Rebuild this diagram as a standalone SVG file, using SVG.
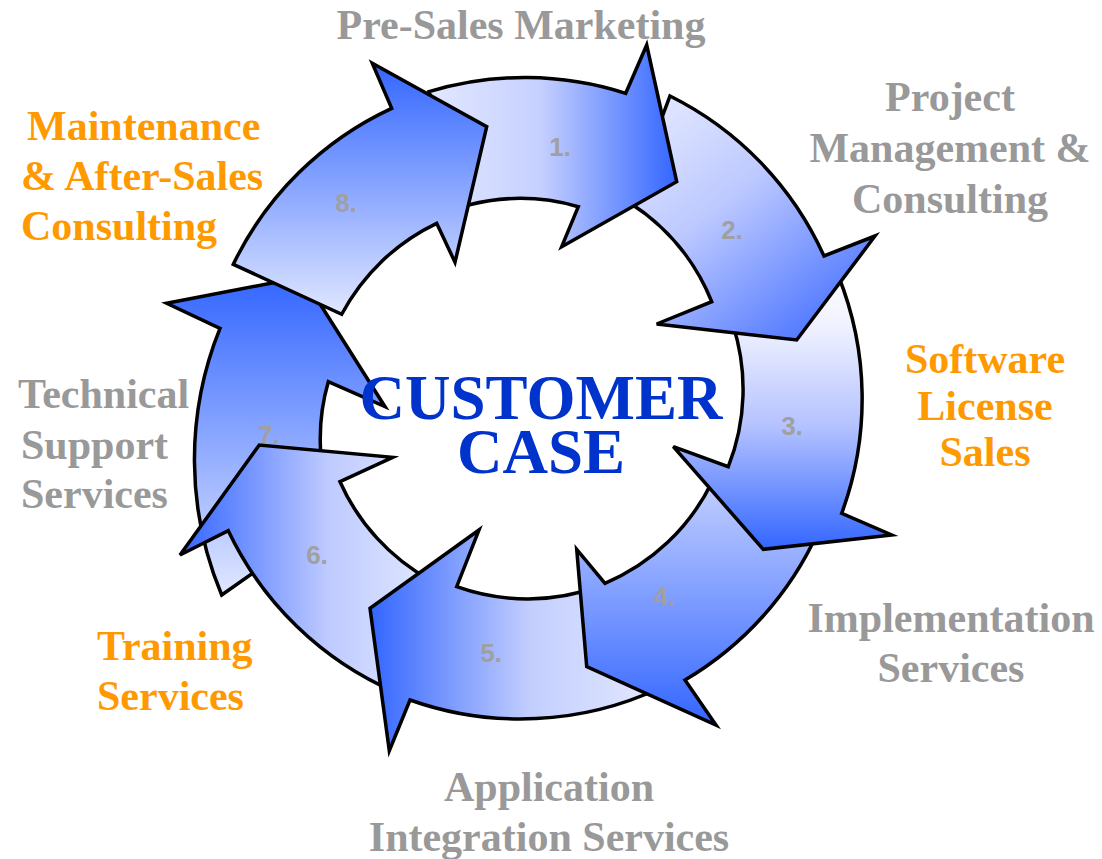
<svg xmlns="http://www.w3.org/2000/svg" width="1102" height="859" viewBox="0 0 1102 859">
<style>
.arrow{stroke:#000;stroke-width:3.5;stroke-linejoin:miter}
.num{font-family:"Liberation Sans",Arial,sans-serif;font-weight:bold;font-size:26px;fill:#a0a0a0;text-anchor:middle}
.lbl{font-family:"Liberation Serif","Times New Roman",serif;font-weight:bold;font-size:42px}
.gray{fill:#999999}
.orange{fill:#ff9900}
.center{font-family:"Liberation Serif","Times New Roman",serif;font-weight:bold;font-size:63px;fill:#0033cc;text-anchor:middle}
</style>
<defs>
<linearGradient id="g1" x1="0" y1="0" x2="1" y2="0"><stop offset="0" stop-color="#e2e8ff"/><stop offset="0.45" stop-color="#c6d0ff"/><stop offset="1" stop-color="#3366ff"/></linearGradient>
<linearGradient id="g2" x1="0.1" y1="0" x2="0.9" y2="1"><stop offset="0" stop-color="#e4e9ff"/><stop offset="0.4" stop-color="#bdc9ff"/><stop offset="1" stop-color="#3d6aff"/></linearGradient>
<linearGradient id="g3" x1="0" y1="0" x2="0" y2="1"><stop offset="0" stop-color="#ffffff"/><stop offset="0.2" stop-color="#eef0ff"/><stop offset="0.55" stop-color="#b4c2ff"/><stop offset="1" stop-color="#3366ff"/></linearGradient>
<linearGradient id="g4" x1="0" y1="0" x2="0" y2="1"><stop offset="0" stop-color="#c3cfff"/><stop offset="1" stop-color="#3366ff"/></linearGradient>
<linearGradient id="g5" x1="0" y1="0" x2="1" y2="0"><stop offset="0" stop-color="#3366ff"/><stop offset="0.55" stop-color="#c3cefe"/><stop offset="1" stop-color="#e3e9ff"/></linearGradient>
<linearGradient id="g6" x1="0" y1="0" x2="1" y2="0"><stop offset="0" stop-color="#3366ff"/><stop offset="0.6" stop-color="#c0cbff"/><stop offset="1" stop-color="#e0e7ff"/></linearGradient>
<linearGradient id="g7" x1="0" y1="0" x2="0" y2="1"><stop offset="0" stop-color="#3366ff"/><stop offset="1" stop-color="#e0e7ff"/></linearGradient>
<linearGradient id="g8" x1="0" y1="0" x2="0" y2="1"><stop offset="0" stop-color="#3366ff"/><stop offset="1" stop-color="#e0e7ff"/></linearGradient>
</defs>
<rect width="1102" height="859" fill="#ffffff"/>

<g id="connectors"></g>

<g id="step-7">
<path class="arrow" fill="url(#g7)" d="M221.7,595 A350,350 0 0,1 220,328.3 L166.7,303.3 L303,277 L385,406.7 L328.3,381.7 A205,205 0 0,0 335,515 Z"/>
<text class="num" x="269" y="444">7.</text>
</g>
<g id="step-6">
<path class="arrow" fill="url(#g6)" d="M395,692 A330,330 0 0,1 228.3,530.7 L180,555 L259.3,445 L392.7,457.3 L340,481.7 A210,210 0 0,0 430,580 Z"/>
<text class="num" x="317" y="564">6.</text>
</g>
<g id="step-5">
<path class="arrow" fill="url(#g5)" d="M660,688 A330,330 0 0,1 410,700 L389.3,750.7 L370,608.3 L479,530 L456.7,586.7 A210,210 0 0,0 600,586 Z"/>
<text class="num" x="491" y="662">5.</text>
</g>
<g id="step-4">
<path class="arrow" fill="url(#g4)" d="M818,532 A330,330 0 0,1 685,680 L716,725 L586.7,666.7 L576.7,549.3 L605,583.3 A210,210 0 0,0 712,482 Z"/>
<text class="num" x="664" y="605">4.</text>
</g>
<g id="step-3">
<path class="arrow" fill="url(#g3)" d="M838,275 A330,330 0 0,1 841.7,513.3 L891.7,535 L763.3,549.3 L673.3,446.7 L728.3,466.7 A210,210 0 0,0 733,325 Z"/>
<text class="num" x="792" y="435">3.</text>
</g>
<g id="step-2">
<path class="arrow" fill="url(#g2)" d="M670,96 A330,330 0 0,1 824,256 L875,236 L796.7,340 L656.7,324 L711.7,301.7 A210,210 0 0,0 630,203 Z"/>
<text class="num" x="732" y="239">2.</text>
</g>
<g id="step-1">
<path class="arrow" fill="url(#g1)" d="M429,91.7 A330,330 0 0,1 625.7,93.3 L646.7,45 L676.7,181.7 L561.7,246.7 L578.3,206.7 A210,210 0 0,0 468.3,205 Z"/>
<text class="num" x="560" y="156">1.</text>
</g>
<g id="step-8">
<path class="arrow" fill="url(#g8)" d="M233.3,264.3 A330,330 0 0,1 391.7,108.3 L372.3,63.3 L486.7,126.7 L455,262.3 L436.7,223.3 A210,210 0 0,0 341.7,314.3 Z"/>
<text class="num" x="346" y="212">8.</text>
</g>

<g id="center-label">
<text class="center" x="541" y="419">CUSTOMER</text>
<text class="center" x="541" y="473">CASE</text>
</g>

<g id="label-presales">
<text class="lbl gray" x="521" y="39" text-anchor="middle">Pre-Sales Marketing</text>
</g>
<g id="label-project">
<text class="lbl gray" x="950" y="111" text-anchor="middle">Project</text>
<text class="lbl gray" x="950" y="162" text-anchor="middle">Management &amp;</text>
<text class="lbl gray" x="950" y="213" text-anchor="middle">Consulting</text>
</g>
<g id="label-software">
<text class="lbl orange" x="985" y="373" text-anchor="middle">Software</text>
<text class="lbl orange" x="985" y="420" text-anchor="middle">License</text>
<text class="lbl orange" x="985" y="466" text-anchor="middle">Sales</text>
</g>
<g id="label-implementation">
<text class="lbl gray" x="951" y="632" text-anchor="middle">Implementation</text>
<text class="lbl gray" x="951" y="682" text-anchor="middle">Services</text>
</g>
<g id="label-application">
<text class="lbl gray" x="549" y="801" text-anchor="middle">Application</text>
<text class="lbl gray" x="549" y="851" text-anchor="middle">Integration Services</text>
</g>
<g id="label-training">
<text class="lbl orange" x="97" y="660">Training</text>
<text class="lbl orange" x="97" y="710">Services</text>
</g>
<g id="label-technical">
<text class="lbl gray" x="18" y="408">Technical</text>
<text class="lbl gray" x="21" y="459">Support</text>
<text class="lbl gray" x="21" y="508">Services</text>
</g>
<g id="label-maintenance">
<text class="lbl orange" x="27" y="140">Maintenance</text>
<text class="lbl orange" x="21" y="190">&amp; After-Sales</text>
<text class="lbl orange" x="21" y="240">Consulting</text>
</g>
</svg>
